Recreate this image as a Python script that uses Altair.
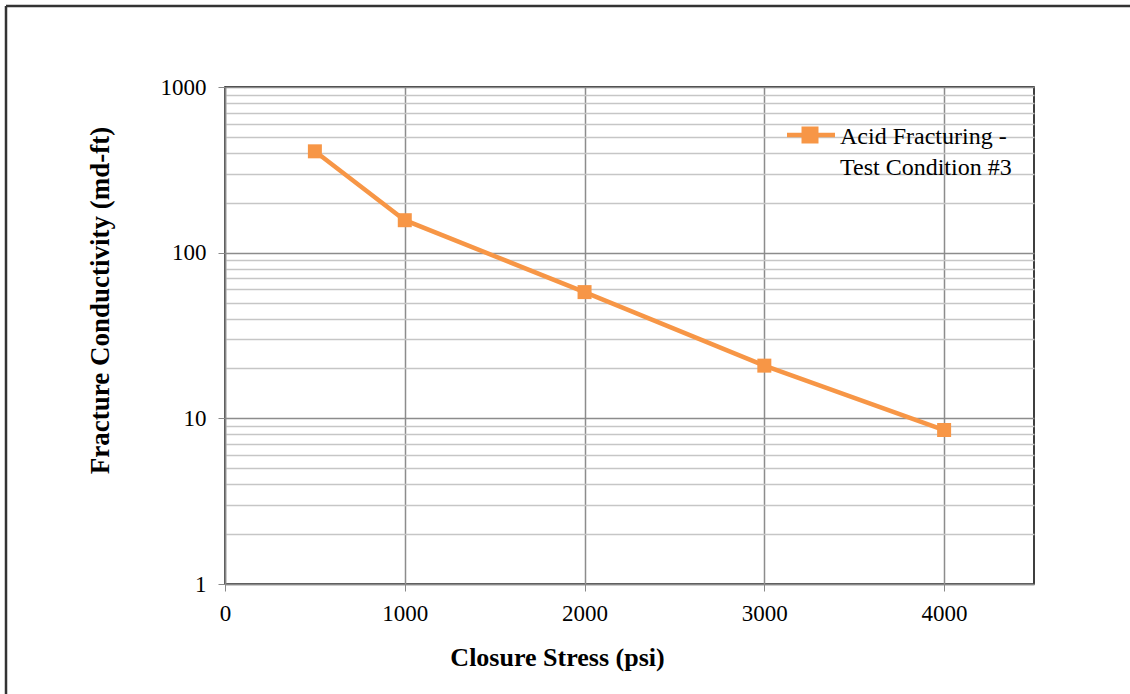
import altair as alt
import pandas as pd

stress = [500, 1000, 2000, 3000, 4000]
conductivity = [409, 157, 57.8, 20.8, 8.5]
legend_lines = ["Acid Fracturing -", "Test Condition #3"]

x_ticks = [0, 1000, 2000, 3000, 4000]
y_ticks = [1, 2, 3, 4, 5, 6, 7, 8, 9,
           10, 20, 30, 40, 50, 60, 70, 80, 90,
           100, 200, 300, 400, 500, 600, 700, 800, 900, 1000]

df = pd.DataFrame({"stress": stress, "cond": conductivity})

FONT = "Liberation Serif"
ORANGE = "#F79646"
W, H = 809, 497
PAD_L, PAD_T = 225, 87

is_decade = "abs(log(datum.value)/LN10 - round(log(datum.value)/LN10)) < 0.001"

base = alt.Chart(df)

line = base.mark_line(strokeWidth=4.5, color=ORANGE).encode(
    x=alt.X("stress:Q",
            scale=alt.Scale(domain=[0, 4500], nice=False, zero=False),
            axis=alt.Axis(values=x_ticks, format="d", title="Closure Stress (psi)",
                          labelFont=FONT, labelFontSize=23, labelColor="#000",
                          labelPadding=11, labelFlush=False, tickSize=7, tickColor="#888",
                          domainColor="#888", domainWidth=1.5,
                          gridColor="#8c8c8c", gridWidth=1.5,
                          titleFont=FONT, titleFontSize=26, titleFontWeight="bold",
                          titleColor="#000", titleX=332, titleY=73,
                          titleBaseline="middle", titleAnchor="start", titleAlign="center")),
    y=alt.Y("cond:Q",
            scale=alt.Scale(type="log", domain=[1, 1000], nice=False),
            axis=alt.Axis(values=y_ticks, format="d", title="Fracture Conductivity (md-ft)",
                          labelExpr=f"{is_decade} ? datum.label : ''",
                          labelFont=FONT, labelFontSize=23, labelColor="#000",
                          labelPadding=12, labelFlush=False, tickSize=7,
                          tickColor="#888",
                          tickOpacity=alt.condition(is_decade, alt.value(1), alt.value(0)),
                          domainColor="#888", domainWidth=1.5,
                          gridColor=alt.condition(is_decade, alt.value("#8c8c8c"), alt.value("#c6c6c6")),
                          gridWidth=1.5,
                          titleFont=FONT, titleFontSize=27, titleFontWeight="bold",
                          titleColor="#000", titleX=-125, titleY=213,
                          titleBaseline="middle", titleAnchor="start", titleAlign="center")),
)

points = base.mark_square(size=196, color=ORANGE, opacity=1).encode(
    x="stress:Q", y="cond:Q"
)

one = pd.DataFrame({"a": [0]})

# manual legend
leg_line = alt.Chart(one).mark_rule(color=ORANGE, strokeWidth=4.5).encode(
    x=alt.value(562), x2=alt.value(610), y=alt.value(48)
)
leg_sq = alt.Chart(one).mark_square(size=289, color=ORANGE, opacity=1).encode(
    x=alt.value(585), y=alt.value(48)
)
leg_text = alt.Chart(one).mark_text(
    text=legend_lines, font=FONT, fontSize=24, color="#000",
    align="left", baseline="alphabetic", lineHeight=31
).encode(x=alt.value(615), y=alt.value(57))

frame_top = alt.Chart(one).mark_rule(color="#333", strokeWidth=2.5).encode(
    x=alt.value(6 - PAD_L), x2=alt.value(1130 - PAD_L), y=alt.value(6 - PAD_T)
)
frame_left = alt.Chart(one).mark_rule(color="#333", strokeWidth=2.5).encode(
    x=alt.value(6 - PAD_L), y=alt.value(6 - PAD_T), y2=alt.value(694 - PAD_T)
)

chart = alt.layer(line, points, leg_line, leg_sq, leg_text, frame_top, frame_left).properties(
    width=W, height=H,
    padding={"left": PAD_L, "top": PAD_T, "right": 1130 - PAD_L - W, "bottom": 694 - PAD_T - H},
    autosize=alt.AutoSizeParams(type="none"),
    background="white",
).configure_view(stroke="#000", strokeWidth=1.5)

chart.save("out.html", embed_options={"renderer": "svg", "actions": False})
